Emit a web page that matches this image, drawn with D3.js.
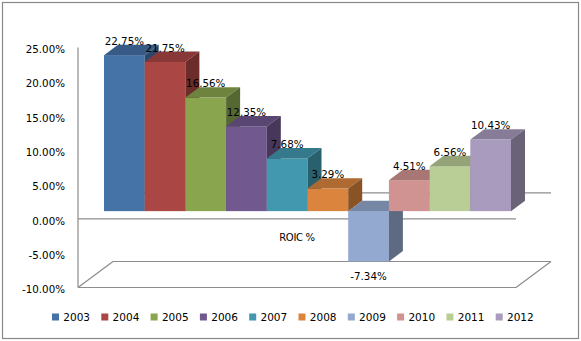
<!DOCTYPE html>
<html><head><meta charset="utf-8">
<script src="https://cdn.jsdelivr.net/npm/d3@7"></script>
<style>body{margin:0;background:#fff}svg{display:block}text{font-family:"DejaVu Sans",Verdana,sans-serif}</style>
</head><body><svg id="c" width="581" height="341"></svg>
<script>
const years = ["2003","2004","2005","2006","2007","2008","2009","2010","2011","2012"];
const roic = [22.75,21.75,16.56,12.35,7.68,3.29,-7.34,4.51,6.56,10.43];
const colors = ["#4572A7","#AA4643","#89A54E","#71588F","#4198AF","#DB843D","#93A9CF","#D19392","#B9CD96","#A99BBD"];
const tickVals = [-10,-5,0,5,10,15,20,25];
const category = "ROIC %";

const svg = d3.select("#c");
svg.append("rect").attr("x",2.5).attr("y",2.5).attr("width",576).attr("height",336)
  .attr("fill","#fff").attr("stroke","#888").attr("stroke-width",1.2);

const y = d3.scaleLinear().domain([-10,25]).range([287.5,47.5]);
const px0 = 78, px1 = 516;          // front plane x extent
const D = {dx:35, dy:-26};          // full depth offset
const bf = 0.3, bd = 0.4;           // bar front depth fraction, bar depth fraction
const x = d3.scaleBand().domain(years).range([px0+15.5+D.dx*bf, px1-15.5+D.dx*bf]).padding(0);

const line = (x1,y1,x2,y2)=>svg.append("line").attr("x1",x1).attr("y1",y1).attr("x2",x2).attr("y2",y2)
  .attr("stroke","#8c8c8c").attr("stroke-width",1.2);

// axis labels
svg.append("g").selectAll("text").data(tickVals).join("text")
  .attr("x",65).attr("y",d=>y(d)+2).attr("dy","0.35em").attr("text-anchor","end")
  .attr("font-size",10.3).attr("fill","#000").text(d=>d.toFixed(2)+"%");

// planes
line(px0, y(25), px0, y(-10));
line(px0+D.dx, y(0)+D.dy, px1+D.dx, y(0)+D.dy);
line(px0, y(0), px1, y(0));
line(px0, y(-10), px1, y(-10));
line(px0+D.dx, y(-10)+D.dy, px1+D.dx, y(-10)+D.dy);
line(px0, y(-10), px0+D.dx, y(-10)+D.dy);
line(px1, y(-10), px1+D.dx, y(-10)+D.dy);

// bars
const shade = (c,k)=>{const r=d3.rgb(c);return d3.rgb(r.r*k,r.g*k,r.b*k).formatHex();};
const fdy = D.dy*bf, ddx = D.dx*bd, ddy = D.dy*bd;
const g = svg.append("g");
years.forEach((yr,i)=>{
  const v = roic[i], x0 = x(yr), w = x.bandwidth();
  const yTop = y(Math.max(v,0))+fdy, yBot = y(Math.min(v,0))+fdy;
  const pts = a=>a.map(p=>p.join(",")).join(" ");
  g.append("rect").attr("x",x0).attr("y",yTop).attr("width",w).attr("height",yBot-yTop)
    .attr("fill",colors[i]);
  g.append("polygon").attr("points",pts([[x0,yTop],[x0+w,yTop],[x0+w+ddx,yTop+ddy],[x0+ddx,yTop+ddy]]))
    .attr("fill",shade(colors[i],0.8));
  g.append("polygon").attr("points",pts([[x0+w,yTop],[x0+w+ddx,yTop+ddy],[x0+w+ddx,yBot+ddy],[x0+w,yBot]]))
    .attr("fill",shade(colors[i],0.63));
});

// data labels
svg.append("g").selectAll("text").data(years).join("text")
  .attr("x",d=>x(d)+x.bandwidth()/2)
  .attr("y",(d,i)=>roic[i]>=0 ? y(roic[i])+fdy-14 : y(roic[i])+fdy+14.5)
  .attr("dy","0.35em").attr("text-anchor","middle").attr("font-size",10.3).attr("fill","#000")
  .text((d,i)=>roic[i].toFixed(2)+"%");

// category label
svg.append("text").attr("x",(px0+px1)/2).attr("y",237).attr("dy","0.35em").attr("text-anchor","middle")
  .attr("font-size",10).attr("letter-spacing","-0.3").attr("fill","#000").text(category);

// legend
const lg = svg.append("g").selectAll("g").data(years).join("g")
  .attr("transform",(d,i)=>`translate(${52+i*49.3},317)`);
lg.append("rect").attr("x",0).attr("y",-3.5).attr("width",7).attr("height",7).attr("fill",(d,i)=>colors[i]);
lg.append("text").attr("x",11.3).attr("y",0).attr("dy","0.36em").attr("font-size",10.5).attr("fill","#000").text(d=>d);
</script></body></html>
